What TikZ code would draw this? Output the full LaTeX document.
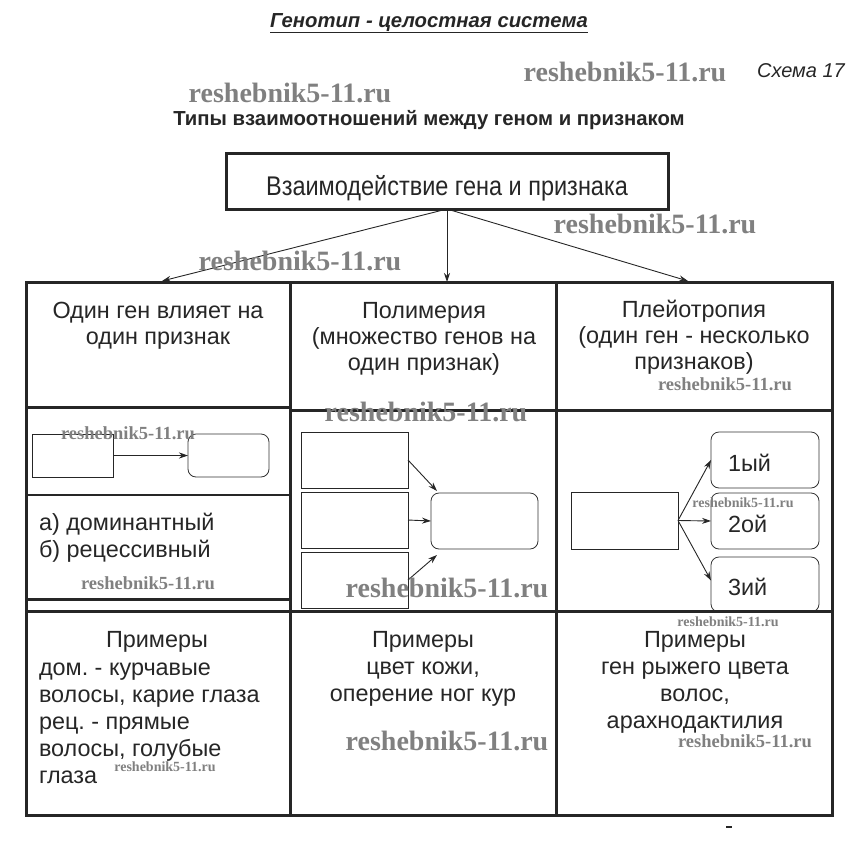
\documentclass[tikz,border=0pt]{standalone}
\usepackage{fontspec}
\usepackage{graphicx}
\setmainfont{Liberation Sans}
\newfontfamily\wmfont{Liberation Serif}
\usetikzlibrary{arrows.meta,calc}
\newcommand\cellstrut{\rule{0pt}{20pt}}
\frenchspacing
\begin{document}
\begin{tikzpicture}[x=1pt,y=-1pt,
  every node/.style={inner sep=0pt,outer sep=0pt},
  tline/.style={line width=3pt,draw=black!85,line cap=rect},
  thinline/.style={line width=1.4pt,draw=black!85},
  cell/.style={font=\fontsize{23.4}{26}\selectfont,align=center,anchor=north,text=black!85},
  body/.style={font=\fontsize{23.4}{27}\selectfont,text=black!85},
  sbox/.style={draw=black!85,line width=0.9pt},
  rbox/.style={draw=black!80,line width=0.8pt,rounded corners=8pt},
  arr/.style={-{Stealth[length=9pt,width=6pt]},line width=0.9pt,draw=black!85},
  wm/.style={font=\wmfont\bfseries\fontsize{#1}{#1}\selectfont,text=black!50},
]
\useasboundingbox (0,0) rectangle (857,860);

% headings
\node[font=\bfseries\itshape\fontsize{20.3}{22}\selectfont,anchor=base,text=black!85] (title) at (429,27) {\underline{Генотип - целостная система}};
\node[font=\itshape\fontsize{20}{22}\selectfont,anchor=base,text=black!85] (schema) at (801,77) {Схема 17};
\node[font=\bfseries\fontsize{20.3}{22}\selectfont,anchor=base,text=black!85] (types) at (429,125) {Типы взаимоотношений между геном и признаком};

% main box
\node[draw=black!85,line width=3pt,minimum width=442pt,minimum height=56pt] (main) at (447,181) {};
\node[anchor=base,font=\fontsize{27}{30}\selectfont,text=black!85] (mainlbl) at (447,195) {\scalebox{0.87}[1]{Взаимодействие гена и признака}};

% table
\draw[tline] (26,282) -- (832,282);
\draw[tline] (26,282) -- (26,815);
\draw[tline] (290,282) -- (290,815);
\draw[tline] (556,282) -- (556,815);
\draw[tline] (832,282) -- (832,815);
\draw[tline] (26,407) -- (290,407);
\draw[tline] (290,410) -- (832,410);
\draw[tline] (26,599) -- (290,599);
\draw[tline] (26,611) -- (832,611);
\draw[tline] (26,815) -- (832,815);
\draw[thinline] (26,495) -- (290,495);

% arrows from main box
\coordinate (tL) at (162,281);
\coordinate (tM) at (447,282);
\coordinate (tR) at (688,281);
\draw[arr] (main.south) -- (tL);
\draw[arr] (main.south) -- (tM);
\draw[arr] (main.south) -- (tR);

% header cells
\node[cell] (h1) at (158,298) {\cellstrut Один ген влияет на\\один признак};
\node[cell] (h2) at (424,298) {\cellstrut Полимерия\\(множество генов на\\один признак)};
\node[cell] (h3) at (694,297) {\cellstrut Плейотропия\\(один ген - несколько\\признаков)};

% left middle cell
\node[sbox,minimum width=81pt,minimum height=43pt] (l1) at (72.5,455.5) {};
\node[rbox,minimum width=81pt,minimum height=43pt] (l2) at (228.5,455.5) {};
\draw[arr] (l1.east) -- (l2.west);
\node[body,anchor=base west] (la) at (39,530) {а) доминантный};
\node[body,anchor=base west] (lb) at (39,557) {б) рецессивный};

% middle cell
\node[sbox,minimum width=107pt,minimum height=56pt] (m1) at (354.5,460) {};
\node[sbox,minimum width=107pt,minimum height=56pt] (m2) at (354.5,520) {};
\node[sbox,minimum width=107pt,minimum height=56pt] (m3) at (354.5,580) {};
\node[rbox,minimum width=107pt,minimum height=56pt] (mr) at (484.5,521) {};
\draw[arr] (m1.east) -- ($(mr.north west)+(6,-2)$);
\draw[arr] (m2.east) -- (mr.west);
\draw[arr] (m3.east) -- ($(mr.south west)+(6,6)$);

% right cell
\node[sbox,minimum width=107pt,minimum height=57pt] (r0) at (624.5,520.5) {};
\node[rbox,minimum width=108pt,minimum height=56pt] (r1) at (765,460) {};
\node[rbox,minimum width=108pt,minimum height=56pt] (r2) at (765,521) {};
\node[rbox,minimum width=108pt,minimum height=55pt] (r3) at (765,584.5) {};
\draw[tline] (556,611) -- (832,611);
\draw[arr] (r0.east) -- (r1.west);
\draw[arr] (r0.east) -- (r2.west);
\draw[arr] (r0.east) -- ($(r3.west)+(0,-4)$);
\node[body,anchor=base west] (r1t) at (728,471) {1ый};
\node[body,anchor=base west] (r2t) at (728,532) {2ой};
\node[body,anchor=base west] (r3t) at (728,595) {3ий};

% bottom cells
\node[body,anchor=base] (e1) at (157,647) {Примеры};
\node[body,anchor=north west,align=left] (e1t) at (39,655) {\cellstrut дом. - курчавые\\волосы, карие глаза\\рец. - прямые\\волосы, голубые\\глаза};
\node[body,anchor=north,align=center] (e2) at (423,627) {\cellstrut Примеры\\цвет кожи,\\оперение ног кур};
\node[body,anchor=north,align=center] (e3) at (695,627) {\cellstrut Примеры\\ген рыжего цвета\\волос,\\арахнодактилия};

\draw[line width=1.2pt,draw=black!85] (726,827) -- (732,827);

% watermarks
\node[wm=28] (w1) at (625,72) {reshebnik5-11.ru};
\node[wm=28] (w2) at (290,93) {reshebnik5-11.ru};
\node[wm=28] (w3) at (655,224) {reshebnik5-11.ru};
\node[wm=28] (w4) at (300,261) {reshebnik5-11.ru};
\node[wm=18.5] (w5) at (725,384) {reshebnik5-11.ru};
\node[wm=28] (w6) at (426,412) {reshebnik5-11.ru};
\node[wm=18.5] (w7) at (128,433) {reshebnik5-11.ru};
\node[wm=14] (w8) at (743,503) {reshebnik5-11.ru};
\node[wm=28] (w9) at (447,588) {reshebnik5-11.ru};
\node[wm=18.5] (w10) at (148,583) {reshebnik5-11.ru};
\node[wm=14] (w11) at (728,622) {reshebnik5-11.ru};
\node[wm=28] (w12) at (447,741) {reshebnik5-11.ru};
\node[wm=18.5] (w13) at (745,741) {reshebnik5-11.ru};
\node[wm=14] (w14) at (165,767) {reshebnik5-11.ru};
\end{tikzpicture}
\end{document}
